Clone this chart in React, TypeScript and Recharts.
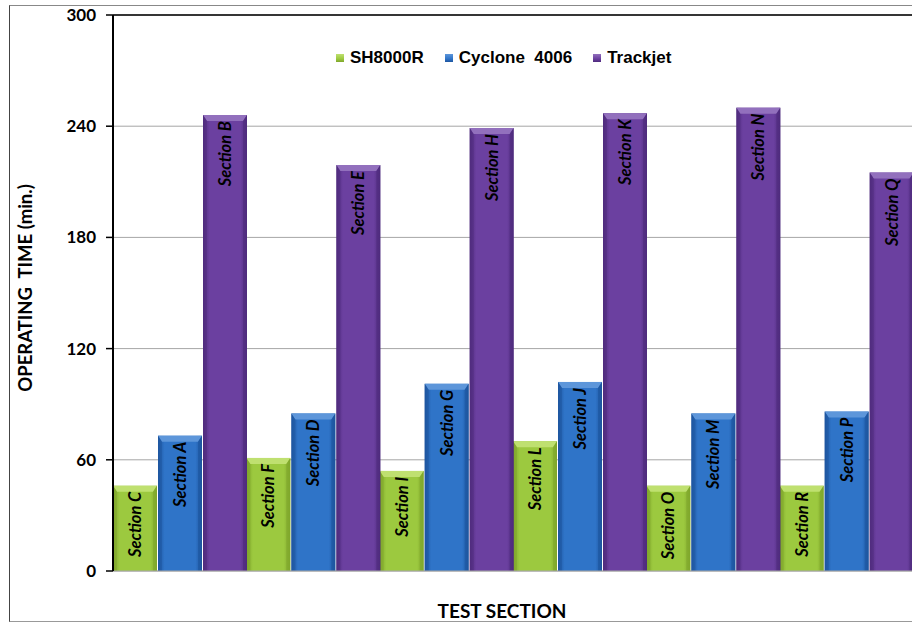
import React from 'react';
import {
  BarChart,
  Bar,
  XAxis,
  YAxis,
  CartesianGrid,
  ReferenceLine,
  LabelList,
  Label,
} from 'recharts';

const groups = ['1', '2', '3', '4', '5', '6'];
const sh8000r = [46, 61, 54, 70, 46, 46];
const cyclone = [73, 85, 101, 102, 85, 86];
const trackjet = [246, 219, 239, 247, 250, 215];
const shSections = ['Section C', 'Section F', 'Section I', 'Section L', 'Section O', 'Section R'];
const cySections = ['Section A', 'Section D', 'Section G', 'Section J', 'Section M', 'Section P'];
const tjSections = ['Section B', 'Section E', 'Section H', 'Section K', 'Section N', 'Section Q'];
const yTicks = [0, 60, 120, 180, 240, 300];

const data = groups.map((g, i) => ({
  group: g,
  sh: sh8000r[i],
  cy: cyclone[i],
  tj: trackjet[i],
  shName: shSections[i],
  cyName: cySections[i],
  tjName: tjSections[i],
}));

const SERIES = [
  { key: 'sh', label: 'shName', name: 'SH8000R', id: 'gGreen', mid: '#9cc93f', light: '#bfe070', dark: '#7fa62c' },
  { key: 'cy', label: 'cyName', name: 'Cyclone\u00a0 4006', id: 'gBlue', mid: '#2f74c8', light: '#5d96da', dark: '#1d559f' },
  { key: 'tj', label: 'tjName', name: 'Trackjet', id: 'gPurple', mid: '#6b40a0', light: '#9270bd', dark: '#4f2b7d' },
];

const makeShape = (s: any) => (props: any) => {
  const { x, y, width, height } = props;
  if (!height || height <= 0) return null;
  const b = 6;
  return (
    <g>
      <rect x={x} y={y} width={width} height={height} fill={`url(#${s.id})`} />
      <polygon
        points={`${x},${y} ${x + width},${y} ${x + width - 4},${y + b} ${x + 4},${y + b}`}
        fill={s.light}
      />
      <polygon points={`${x},${y} ${x + 4},${y + b} ${x + 4},${y + height} ${x},${y + height}`} fill={s.dark} opacity={0.5} />
      <polygon
        points={`${x + width},${y} ${x + width - 4},${y + b} ${x + width - 4},${y + height} ${x + width},${y + height}`}
        fill={s.dark}
        opacity={0.6}
      />
    </g>
  );
};

const SectionLabel = (props: any) => {
  const { x, y, width, value } = props;
  const cx = x + width / 2;
  const ty = y + 6;
  return (
    <text
      x={cx}
      y={ty}
      transform={`rotate(-90 ${cx} ${ty})`}
      textAnchor="end"
      dominantBaseline="central"
      fontFamily="Lato"
      fontWeight="bold"
      fontStyle="italic"
      fontSize={16.5}
      fill="#000"
    >
      {value}
    </text>
  );
};

const LegendBox = () => (
  <div
    style={{
      position: 'absolute',
      left: 336,
      top: 48,
      display: 'flex',
      alignItems: 'center',
      fontFamily: 'Liberation Sans, Arial',
      fontWeight: 'bold',
      fontSize: 17,
    }}
  >
    {SERIES.map((s) => (
      <div key={s.key} style={{ display: 'flex', alignItems: 'center', marginRight: 21 }}>
        <span
          style={{
            display: 'inline-block',
            width: 8,
            height: 8,
            background: `linear-gradient(${s.light}, ${s.mid} 60%, ${s.dark})`,
            marginRight: 6,
          }}
        />
        <span>{s.name}</span>
      </div>
    ))}
  </div>
);

export default function App() {
  return (
    <div style={{ position: 'fixed', left: 0, top: 0, width: 912, height: 622, overflow: 'hidden', background: '#fff' }}>
      <div
        style={{
          position: 'absolute',
          left: 9,
          top: 5,
          width: 1000,
          height: 615,
          borderLeft: '1.5px solid #444',
          borderTop: '1.5px solid #888',
          borderBottom: '1.5px solid #999',
        }}
      />
      <div style={{ position: 'absolute', left: 0, top: 0 }}>
        <BarChart
          width={940}
          height={622}
          data={data}
          margin={{ top: 15, right: 27, left: 0, bottom: 11 }}
          barCategoryGap={0}
          barGap={1}
        >
          <defs>
            {SERIES.map((s) => (
              <linearGradient key={s.id} id={s.id} x1="0" y1="0" x2="1" y2="0">
                <stop offset="0%" stopColor={s.dark} />
                <stop offset="15%" stopColor={s.mid} />
                <stop offset="50%" stopColor={s.mid} />
                <stop offset="85%" stopColor={s.mid} />
                <stop offset="100%" stopColor={s.dark} />
              </linearGradient>
            ))}
          </defs>
          <CartesianGrid vertical={false} stroke="#a6a6a6" />
          <XAxis dataKey="group" tick={false} tickLine={false} axisLine={{ stroke: '#a6a6a6' }} height={40}>
            <Label
              content={() => (
                <text x={502} y={610} textAnchor="middle" dominantBaseline="central" fontFamily="Lato" fontWeight="bold" fontSize={19} fill="#000">
                  TEST SECTION
                </text>
              )}
            />
          </XAxis>
          <YAxis
            width={113}
            domain={[0, 300]}
            ticks={yTicks}
            interval={0}
            axisLine={{ stroke: '#000', strokeWidth: 2 }}
            tickLine={{ stroke: '#000', strokeWidth: 1.5 }}
            tickSize={7}
            tickMargin={10}
            tick={{ fill: '#000', fontFamily: 'Lato', fontWeight: 'bold', fontSize: 17 }}
          >
            <Label
              content={() => (
                <text
                  x={25}
                  y={288}
                  transform="rotate(-90 25 288)"
                  textAnchor="middle"
                  dominantBaseline="central"
                  fontFamily="Lato"
                  fontWeight="bold"
                  fontSize={18.5}
                  fill="#000"
                >
                  OPERATING&#160; TIME (min.)
                </text>
              )}
            />
          </YAxis>
          <ReferenceLine y={300} stroke="#000" strokeWidth={1.5} />
          {SERIES.map((s) => (
            <Bar key={s.key} dataKey={s.key} name={s.name} fill={s.mid} shape={makeShape(s)} isAnimationActive={false}>
              <LabelList dataKey={s.label} content={<SectionLabel />} />
            </Bar>
          ))}
        </BarChart>
      </div>
      <LegendBox />
    </div>
  );
}
